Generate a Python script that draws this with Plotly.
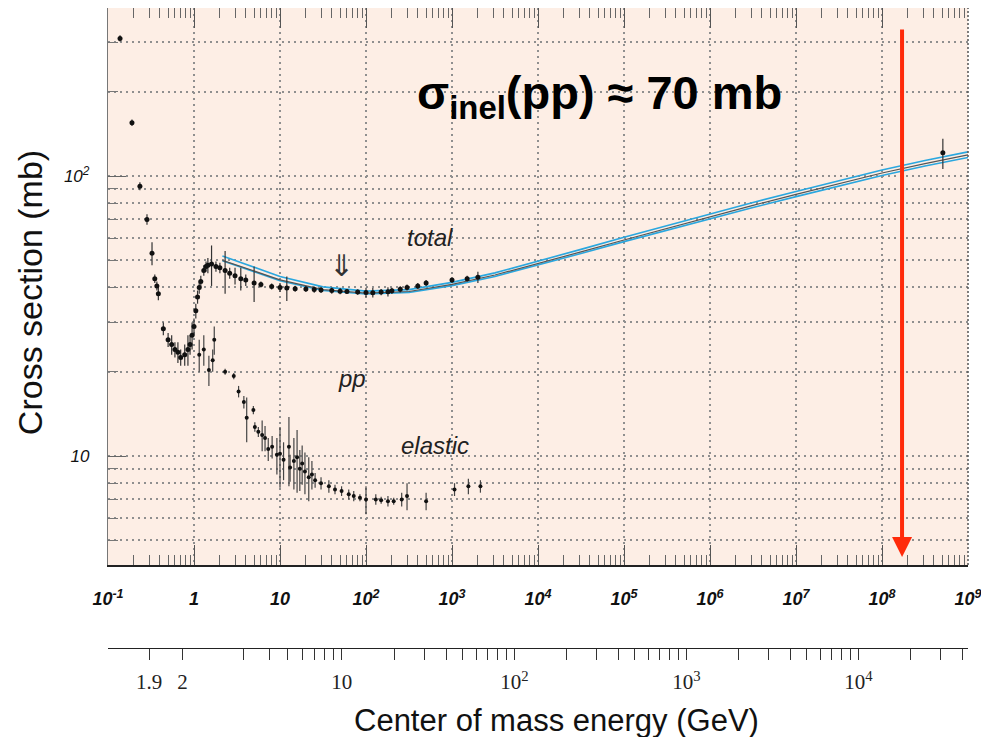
import math
import plotly.graph_objects as go

# ---------------- data ----------------
# total pp cross section: lab momentum (GeV/c), sigma (mb), error (mb)
tot_p = [0.138, 0.19, 0.235, 0.284, 0.325, 0.35, 0.37, 0.385, 0.44, 0.50, 0.55, 0.60, 0.65,
         0.70, 0.78, 0.85, 0.90, 0.95, 1.0, 1.05, 1.1, 1.15, 1.2, 1.3, 1.38, 1.45, 1.6, 1.8,
         2.0, 2.3, 2.6, 3.0, 3.5, 4.0, 5.0, 6.0, 8.0, 10, 12, 15, 20, 25, 30, 40, 50, 60,
         80, 100, 120, 150, 180, 200, 250, 300, 400, 500, 1000, 1500, 2000, 5.1e8]
tot_s = [310, 155, 92, 70, 53, 43, 40.5, 38, 28.5, 26, 25, 24, 23.5,
         22.5, 23, 24, 25, 27, 29, 33, 37, 40, 42, 46, 47.5, 48, 48.5, 47.5,
         47, 46, 45, 44, 43, 42.5, 41.5, 41, 40.3, 40, 39.8, 39.6, 39.5, 39.3, 39.2, 39, 38.8, 38.7,
         38.5, 38.4, 38.3, 38.5, 38.6, 38.9, 39.4, 40, 40.5, 41.5, 42.5, 43, 43.5, 121]
tot_e = [8, 4, 3, 3, 5, 1.5, 1.5, 2, 1.5, 1.5, 2, 1.5, 2,
         1.5, 2, 3, 2, 3, 2, 2, 2, 2, 2, 2, 2, 3, 8, 2,
         2, 8, 2, 3, 4, 2, 6, 1, 1, 1.5, 4, 1, 1, 1, 1, 1, 1, 0.8,
         0.8, 1.5, 1.5, 1, 1.5, 1, 1, 1, 1, 1, 1, 1, 2, 15]

# elastic pp cross section
el_p = [1.15, 1.3, 1.49, 1.65, 1.72, 2.3, 2.9, 3.3, 3.8, 4.1, 4.9, 5.1, 5.6, 6.2, 6.7, 7.3,
        8.1, 9.2, 10, 11, 12.7, 13.1, 14.5, 15.8, 17, 18.1, 19.5, 21.6, 23.5, 25.6, 30,
        37, 43.6, 52, 63, 72, 85, 100, 130, 150, 180, 210, 260, 300, 500, 1070, 1550, 2140]
el_s = [23, 24, 20.3, 22, 26, 20, 19.3, 17, 15.6, 13.7, 14.6, 12.7, 12.2, 11.9, 11.6, 10.6,
        10.8, 10.1, 10.2, 9.7, 10.8, 9.1, 9.6, 9.9, 9.0, 9.4, 8.8, 8.4, 8.6, 8.2, 8.0,
        7.8, 7.6, 7.5, 7.3, 7.2, 7.1, 7.0, 7.0, 6.95, 6.9, 6.9, 7.0, 7.2, 6.9, 7.6, 7.8, 7.8]
el_e = [3, 3, 2.5, 2, 3, 0.5, 0.5, 0.8, 0.8, 2.5, 0.5, 0.5, 0.5, 1.5, 1.2, 1.0,
        1.0, 1.5, 2.5, 1.5, 3, 1.0, 2.0, 2.5, 1.5, 1.5, 1.5, 1.5, 1.0, 0.5, 0.4,
        0.4, 0.3, 0.3, 0.3, 0.3, 0.2, 0.8, 0.3, 0.2, 0.3, 0.2, 0.4, 0.8, 0.5, 0.4, 0.5, 0.4]

# fit curves to the total cross section
fit_p = [2.14, 4.0, 10, 31.6, 100, 316, 1e3, 3.16e3, 1e4, 3.16e4, 1e5, 3.16e5, 1e6,
         3.16e6, 1e7, 3.16e7, 1e8, 3.16e8, 1e9]
fit_c = [50.0, 46.8, 42.6, 39.3, 38.2, 38.7, 41.0, 44.3, 48.6, 53.6, 59.1, 65.1, 71.6,
         78.6, 86.0, 94.0, 102.5, 110.8, 119.0]
fit_u = [51.8, 48.3, 43.8, 40.2, 38.8, 39.3, 41.7, 45.1, 49.6, 54.7, 60.4, 66.6, 73.3,
         80.5, 88.1, 96.3, 105.0, 113.6, 122.0]
fit_l = [49.8, 46.5, 42.3, 39.0, 37.9, 38.4, 40.6, 43.8, 48.0, 52.9, 58.3, 64.1, 70.4,
         77.2, 84.4, 92.2, 100.5, 108.6, 116.4]

# lab-momentum axis ticks
lab_tickvals = [10.0 ** k for k in range(-1, 10)]
lab_ticktext = ["10<sup>-1</sup>", "1", "10", "10<sup>2</sup>", "10<sup>3</sup>", "10<sup>4</sup>",
                "10<sup>5</sup>", "10<sup>6</sup>", "10<sup>7</sup>", "10<sup>8</sup>", "10<sup>9</sup>"]
lab_minor = [m * 10.0 ** k for k in range(-1, 9) for m in range(2, 10)]

# cross-section axis
ys_major = [10, 100]
ys_major_text = ["10", "10<sup>2</sup>"]
ys_minor = [5, 6, 7, 8, 9, 20, 30, 40, 50, 60, 70, 80, 90, 200, 300]

# centre-of-mass energy axis ticks (GeV)
cm_ticks = [1.9, 2, 3, 4, 5, 6, 7, 8, 9, 10, 20, 30, 40, 50, 60, 70, 80, 90, 100,
            200, 300, 400, 500, 600, 700, 800, 900, 1000, 2000, 3000, 4000, 5000, 6000,
            7000, 8000, 9000, 10000, 20000, 30000, 40000]
cm_labels = {1.9: "1.9", 2: "2", 10: "10", 100: "10<sup>2</sup>", 1000: "10<sup>3</sup>",
             10000: "10<sup>4</sup>"}

M_P = 0.938272


def plab_from_sqrts(w):
    s = w * w
    e = (s - 2 * M_P * M_P) / (2 * M_P)
    return math.sqrt(e * e - M_P * M_P)


cm_vals = [plab_from_sqrts(w) for w in cm_ticks]
cm_text = [cm_labels.get(w, "") for w in cm_ticks]

LHC_P = 1.71e8  # lab momentum equivalent marked by the red arrow

# ---------------- figure ----------------
fig = go.Figure()

fig.add_trace(go.Scatter(x=fit_p, y=fit_u, mode="lines", line=dict(color="#2aa7df", width=1.6),
                         hoverinfo="skip", showlegend=False))
fig.add_trace(go.Scatter(x=fit_p, y=fit_l, mode="lines", line=dict(color="#2aa7df", width=1.6),
                         hoverinfo="skip", showlegend=False))
fig.add_trace(go.Scatter(x=fit_p, y=fit_c, mode="lines", line=dict(color="#555555", width=1.2),
                         hoverinfo="skip", showlegend=False))

fig.add_trace(go.Scatter(x=tot_p, y=tot_s, mode="markers",
                         marker=dict(color="#111111", size=5),
                         error_y=dict(type="data", array=tot_e, color="#333333", thickness=1.2, width=0),
                         showlegend=False))
fig.add_trace(go.Scatter(x=el_p, y=el_s, mode="markers",
                         marker=dict(color="#111111", size=4),
                         error_y=dict(type="data", array=el_e, color="#444444", thickness=1.2, width=0),
                         showlegend=False))
# invisible trace to activate the c.m. energy axis
fig.add_trace(go.Scatter(x=[0.5, 1e8], y=[50, 50], xaxis="x2", mode="markers",
                         marker=dict(opacity=0), hoverinfo="skip", showlegend=False))

fig.add_shape(type="rect", xref="x domain", yref="y domain", x0=0, x1=1, y0=0, y1=1,
              fillcolor="#fdeee5", line=dict(width=0), layer="below")
# dotted right frame edge
fig.add_shape(type="line", xref="x domain", yref="y domain", x0=1, x1=1, y0=0, y1=1,
              line=dict(color="#555555", width=1.5, dash="2px,2px"), layer="above")

grid_col = "#8f8f8f"
grid_dash = "2px,4px"
fig.update_layout(
    width=973, height=729,
    margin=dict(l=100, r=13, t=0, b=89, autoexpand=False),
    paper_bgcolor="white", plot_bgcolor="white",
    font=dict(family="Liberation Sans, Arial, sans-serif", color="#111111"),
    xaxis=dict(type="log", range=[-1, 9], anchor="y",
               tickmode="array", tickvals=lab_tickvals, ticktext=lab_ticktext,
               ticks="inside", ticklen=20, tickwidth=1.3, tickcolor="#555555",
               showline=True, linecolor="#222222", linewidth=1.6, mirror="ticks",
               showgrid=True, gridcolor=grid_col, griddash=grid_dash, gridwidth=1.6,
               zeroline=False, ticklabeloverflow="allow",
               tickfont=dict(size=18, style="italic", weight="bold", color="#111111"),
               ticklabelstandoff=17,
               minor=dict(tickmode="array", tickvals=lab_minor, ticks="inside", ticklen=10,
                          tickwidth=1.1, tickcolor="#666666", showgrid=False)),
    xaxis2=dict(type="log", range=[-1, 9], overlaying="x", anchor="free", position=0,
                side="bottom",
                tickmode="array", tickvals=cm_vals, ticktext=cm_text,
                ticks="outside", ticklen=11, tickwidth=1.1, tickcolor="#333333",
                showline=True, linecolor="#222222", linewidth=1.4,
                showgrid=False, zeroline=False,
                tickfont=dict(size=21, family="Liberation Serif, Times New Roman, serif",
                              color="#222222"),
                ticklabelstandoff=4),
    yaxis=dict(type="log", range=[0.611, 2.6], domain=[0.1297, 1],
               tickmode="array", tickvals=ys_major, ticktext=ys_major_text,
               ticks="inside", ticklen=18, tickwidth=1.3, tickcolor="#666666",
               showline=True, linecolor="#777777", linewidth=1.3,
               showgrid=True, gridcolor=grid_col, griddash=grid_dash, gridwidth=1.6,
               zeroline=False,
               tickfont=dict(size=17, style="italic", color="#111111"),
               ticklabelstandoff=14,
               minor=dict(tickmode="array", tickvals=ys_minor, ticks="inside", ticklen=10,
                          tickwidth=1.1, tickcolor="#777777",
                          showgrid=True, gridcolor=grid_col, griddash=grid_dash, gridwidth=1.6)),
)

ann = []
ann.append(dict(text="Cross section (mb)", xref="paper", yref="paper", x=-0.0907, y=0.556,
                xanchor="center", yanchor="middle",
                textangle=-90, showarrow=False, font=dict(size=34, color="#111111")))
ann.append(dict(text="Center of mass energy (GeV)", xref="paper", yref="paper", x=0.521, y=-0.1125,
                xanchor="center", yanchor="middle",
                showarrow=False, font=dict(size=31, color="#111111")))
ann.append(dict(text="σ<sub>inel</sub>(pp) ≈ 70 mb", xref="paper", yref="paper", x=0.571, y=0.862,
                xanchor="center", yanchor="middle",
                showarrow=False, font=dict(size=47, weight="bold", color="#000000")))
ann.append(dict(text="total", x=math.log10(550), y=math.log10(60.5), showarrow=False,
                xanchor="center", yanchor="middle",
                font=dict(size=24, style="italic", color="#222222")))
ann.append(dict(text="pp", x=math.log10(69), y=math.log10(19.0), showarrow=False,
                xanchor="center", yanchor="middle",
                font=dict(size=24, style="italic", color="#222222")))
ann.append(dict(text="elastic", x=math.log10(630), y=math.log10(10.9), showarrow=False,
                xanchor="center", yanchor="middle",
                font=dict(size=24, style="italic", color="#222222")))
ann.append(dict(text="⇓", x=math.log10(52), y=math.log10(48), showarrow=False,
                xanchor="center", yanchor="middle",
                font=dict(size=30, color="#333333")))
ann.append(dict(text="", x=math.log10(LHC_P), y=math.log10(4.36), xref="x", yref="y",
                ax=math.log10(LHC_P), ay=math.log10(338), axref="x", ayref="y",
                showarrow=True, arrowhead=2, arrowsize=1.0, arrowwidth=4, arrowcolor="#ff2a0a"))
fig.update_layout(annotations=ann)

fig.write_html("out.html")
